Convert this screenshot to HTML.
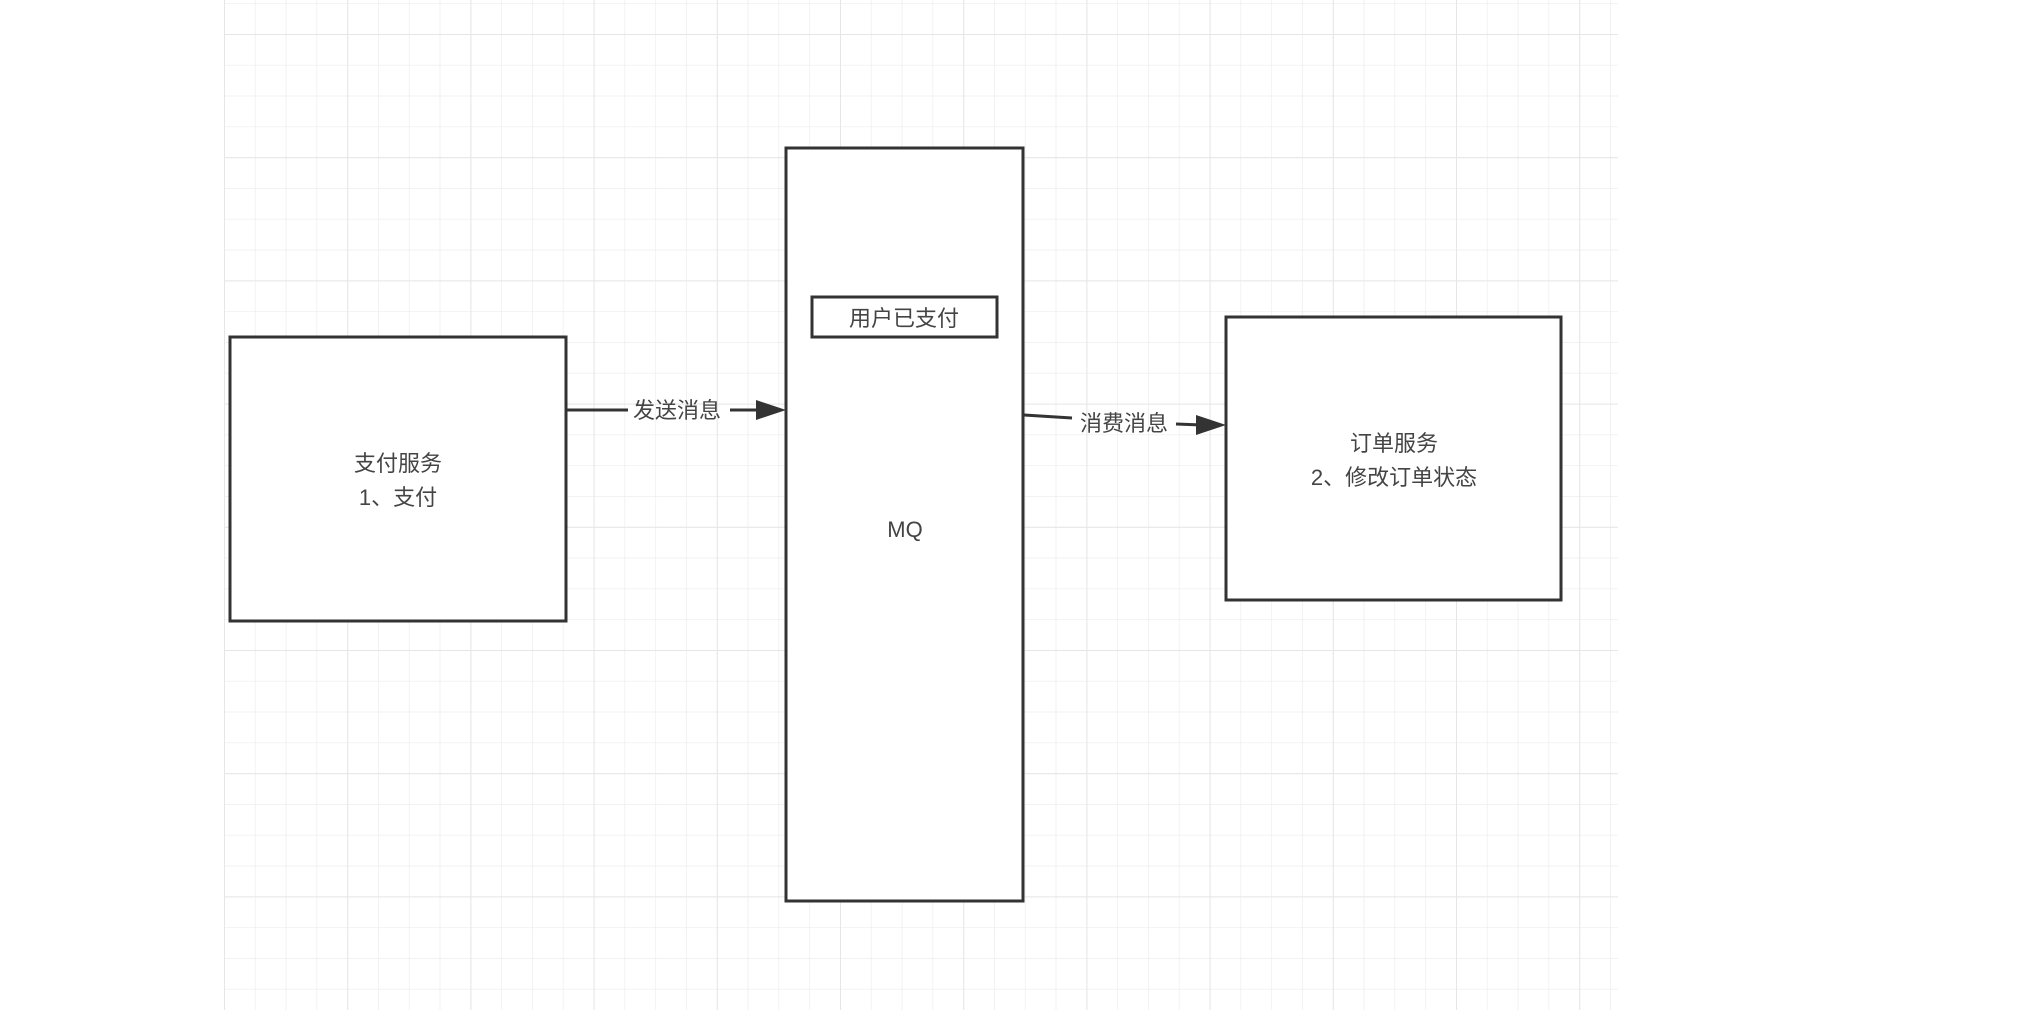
<!DOCTYPE html>
<html><head><meta charset="utf-8"><style>
html,body{margin:0;padding:0;background:#fff;}
svg{display:block;}
text{font-family:"Liberation Sans","Noto Sans CJK SC",sans-serif;fill:#444;}
</style></head><body>
<svg width="2022" height="1010" viewBox="0 0 2022 1010" xmlns="http://www.w3.org/2000/svg">
<defs>
<pattern id="minor" x="224" y="3.2" width="30.8" height="30.8" patternUnits="userSpaceOnUse">
<path d="M0 0H30.8M0 0V30.8" stroke="#eeeeee" stroke-width="1.5" fill="none"/>
</pattern>
<pattern id="major" x="224" y="34" width="123.2" height="123.2" patternUnits="userSpaceOnUse">
<path d="M0 0H123.2M0 0V123.2" stroke="#e6e6e6" stroke-width="2" fill="none"/>
</pattern>
</defs>
<rect x="224" y="0" width="1394" height="1010" fill="url(#minor)"/>
<rect x="224" y="0" width="1394" height="1010" fill="url(#major)"/>
<g fill="#fff" stroke="#333" stroke-width="3">
<rect x="230" y="337" width="336" height="284"/>
<rect x="786" y="148" width="237" height="753"/>
<rect x="812" y="297" width="185" height="40"/>
<rect x="1226" y="317" width="335" height="283"/>
</g>
<g stroke="#333" stroke-width="3" fill="none">
<line x1="566" y1="410" x2="628" y2="410"/>
<line x1="730" y1="410" x2="760" y2="410"/>
<line x1="1024" y1="415" x2="1072" y2="418"/>
<line x1="1176" y1="424" x2="1202" y2="425"/>
</g>
<g fill="#333">
<polygon points="786,410 756,400 756,420"/>
<polygon points="1226,425 1196,415 1196,435"/>
</g>
<g font-size="22" text-anchor="middle">
<text x="398" y="471">支付服务</text>
<text x="398" y="505">1、支付</text>
<text x="905" y="537">MQ</text>
<text x="904" y="326">用户已支付</text>
<text x="1394" y="451">订单服务</text>
<text x="1394" y="485">2、修改订单状态</text>
<text x="677" y="418">发送消息</text>
<text x="1124" y="431">消费消息</text>
</g>
</svg>
</body></html>
